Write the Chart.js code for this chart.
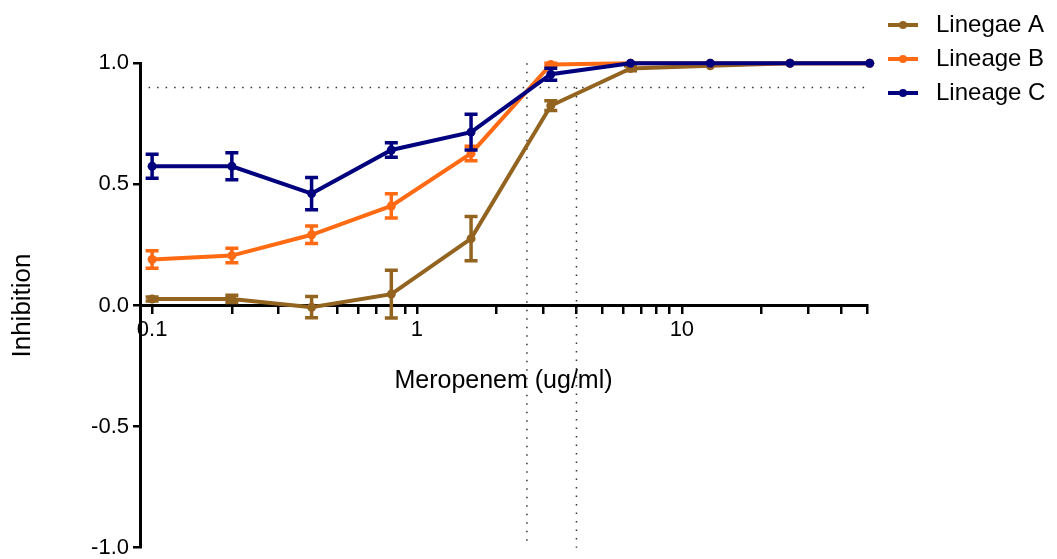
<!DOCTYPE html>
<html>
<head>
<meta charset="utf-8">
<script src="https://cdn.jsdelivr.net/npm/chart.js@4.4.1/dist/chart.umd.min.js"></script>
<style>
  html, body { margin: 0; padding: 0; background: #fff; }
  #wrap { width: 1057px; height: 559px; }
</style>
</head>
<body>
<div id="wrap"><canvas id="graphCanvas"></canvas></div>
<script>
// concentrations (ug/ml), two-fold dilutions
const concentrations = [0.1, 0.2, 0.4, 0.8, 1.6, 3.2, 6.4, 12.8, 25.6, 51.2];

const seriesNames = ['Linegae A', 'Lineage B', 'Lineage C'];
const seriesColors = ['#936320', '#ff6a13', '#00007f'];

const lineageA = [0.027, 0.027, -0.007, 0.047, 0.276, 0.825, 0.979, 0.99, 1.0, 1.0];
const errA     = [0.008, 0.015, 0.044, 0.099, 0.091, 0.02, 0.01, 0, 0, 0];
const lineageB = [0.19, 0.206, 0.292, 0.411, 0.628, 0.995, 1.0, 1.0, 1.0, 1.0];
const errB     = [0.036, 0.03, 0.036, 0.05, 0.03, 0.005, 0, 0, 0, 0];
const lineageC = [0.575, 0.575, 0.462, 0.642, 0.716, 0.955, 1.0, 1.0, 1.0, 1.0];
const errC     = [0.05, 0.056, 0.067, 0.03, 0.074, 0.025, 0, 0, 0, 0];

// axis ticks
const xTickValues = [0.09, 0.1, 0.2, 0.3, 0.4, 0.5, 0.6, 0.7, 0.8, 0.9,
                     1, 2, 3, 4, 5, 6, 7, 8, 9, 10, 20, 30, 40, 50];
const xTickLabels = ['0.1', '1', '10'];
const yTickLabels = ['-1.0', '-0.5', '0.0', '0.5', '1.0'];

// dotted guide lines
const cutoffY = 0.9;
const cutoffXRange = [0.097, 49];
const markerX = [2.6, 4];
const markerTop = [1.0, 0.9];

const FONT = "'Liberation Sans', Arial, sans-serif";

const errorBars = {
  id: 'errorBars',
  afterDatasetDraw(chart, args) {
    const ds = chart.data.datasets[args.index];
    const yScale = chart.scales.y;
    const ctx = chart.ctx;
    ctx.save();
    ctx.strokeStyle = ds.borderColor;
    ctx.lineWidth = 3.5;
    args.meta.data.forEach((pt, i) => {
      const e = ds.errors[i];
      if (!e) return;
      const v = ds.data[i].y;
      const top = yScale.getPixelForValue(v + e);
      const bot = yScale.getPixelForValue(v - e);
      ctx.beginPath();
      ctx.moveTo(pt.x, top);
      ctx.lineTo(pt.x, bot);
      ctx.moveTo(pt.x - 6.5, top);
      ctx.lineTo(pt.x + 6.5, top);
      ctx.moveTo(pt.x - 6.5, bot);
      ctx.lineTo(pt.x + 6.5, bot);
      ctx.stroke();
    });
    ctx.restore();
  }
};

const guideLines = {
  id: 'guideLines',
  beforeDatasetsDraw(chart) {
    const {ctx, scales: {x, y}} = chart;
    ctx.save();
    ctx.strokeStyle = '#333';
    ctx.lineWidth = 1.5;
    ctx.setLineDash([1.5, 7]);
    ctx.beginPath();
    ctx.moveTo(x.getPixelForValue(cutoffXRange[0]), y.getPixelForValue(cutoffY));
    ctx.lineTo(x.getPixelForValue(cutoffXRange[1]), y.getPixelForValue(cutoffY));
    markerX.forEach((mx, i) => {
      ctx.moveTo(x.getPixelForValue(mx), y.getPixelForValue(markerTop[i]));
      ctx.lineTo(x.getPixelForValue(mx), y.getPixelForValue(-1));
    });
    ctx.stroke();
    ctx.restore();
  }
};

const sideLegend = {
  id: 'sideLegend',
  afterDraw(chart) {
    const ctx = chart.ctx;
    ctx.save();
    ctx.font = '24px ' + FONT;
    ctx.textBaseline = 'middle';
    seriesNames.forEach((name, i) => {
      const cy = 25 + i * 34;
      ctx.strokeStyle = seriesColors[i];
      ctx.fillStyle = seriesColors[i];
      ctx.lineWidth = 4;
      ctx.beginPath();
      ctx.moveTo(888, cy);
      ctx.lineTo(918, cy);
      ctx.stroke();
      ctx.beginPath();
      ctx.arc(903, cy, 4, 0, Math.PI * 2);
      ctx.fill();
      ctx.fillStyle = '#000';
      ctx.fillText(name, 936, cy);
    });
    ctx.restore();
  }
};

function makeSet(i, values, errors, order) {
  return {
    label: seriesNames[i],
    data: concentrations.map((c, k) => ({x: c, y: values[k]})),
    errors: errors,
    borderColor: seriesColors[i],
    backgroundColor: seriesColors[i],
    borderWidth: 4,
    pointRadius: 4.5,
    pointHoverRadius: 4.5,
    pointBorderWidth: 0,
    tension: 0,
    clip: false,
    order: order
  };
}

const ctx = document.getElementById('graphCanvas').getContext('2d');

new Chart(ctx, {
  type: 'line',
  data: {
    datasets: [
      makeSet(0, lineageA, errA, 3),
      makeSet(1, lineageB, errB, 2),
      makeSet(2, lineageC, errC, 1)
    ]
  },
  options: {
    responsive: true,
    maintainAspectRatio: false,
    animation: false,
    layout: { padding: { top: 63.3, right: 190, bottom: 11.3, left: 0 } },
    plugins: { legend: { display: false }, tooltip: { enabled: false } },
    scales: {
      x: {
        type: 'logarithmic',
        position: { y: 0 },
        min: 0.09,
        max: 50,
        afterBuildTicks: (scale) => {
          scale.ticks = xTickValues.map(v => ({value: v}));
        },
        ticks: {
          autoSkip: false,
          maxRotation: 0,
          padding: 4,
          color: '#000',
          font: { family: FONT, size: 22 },
          callback: (value) => {
            const lbl = xTickLabels.find(t => Math.abs(parseFloat(t) - value) < 1e-9);
            return lbl || '';
          }
        },
        grid: { drawOnChartArea: false, drawTicks: true, tickLength: 7, color: '#000', lineWidth: 2.5 },
        border: { display: true, color: '#000', width: 3 },
        title: {
          display: true,
          text: 'Meropenem (ug/ml)',
          color: '#000',
          font: { family: FONT, size: 25 },
          padding: { top: 19, bottom: 0 }
        }
      },
      y: {
        type: 'linear',
        position: 'left',
        min: -1,
        max: 1,
        afterFit: (scale) => {
          scale.width = 140;
          scale.paddingTop = 0;
          scale.paddingBottom = 0;
        },
        ticks: {
          stepSize: 0.5,
          padding: 4,
          color: '#000',
          font: { family: FONT, size: 22 },
          callback: (value) => yTickLabels.find(t => Math.abs(parseFloat(t) - value) < 1e-9) || ''
        },
        grid: { drawOnChartArea: false, drawTicks: true, tickLength: 7, color: '#000', lineWidth: 2.5 },
        border: { display: true, color: '#000', width: 3 },
        title: {
          display: true,
          text: 'Inhibition',
          color: '#000',
          font: { family: FONT, size: 26 },
          padding: { top: 7, bottom: 0 }
        }
      }
    }
  },
  plugins: [guideLines, errorBars, sideLegend]
});
</script>
</body>
</html>
